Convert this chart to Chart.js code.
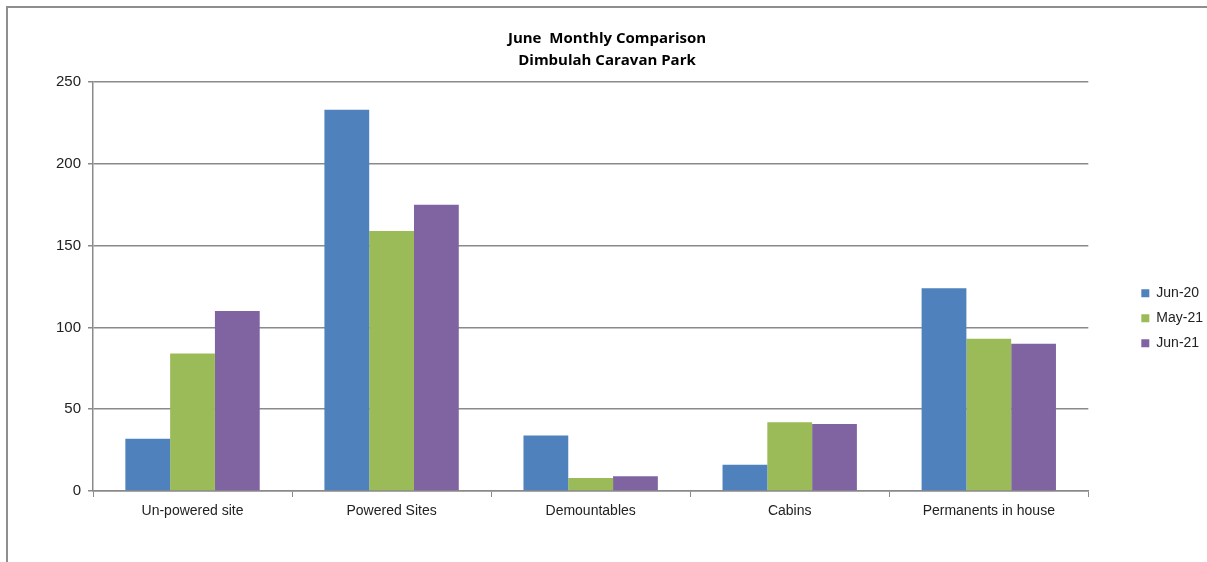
<!DOCTYPE html>
<html>
<head>
<meta charset="utf-8">
<script src="https://cdn.jsdelivr.net/npm/chart.js@4.4.0/dist/chart.umd.min.js"></script>
<style>
    html, body { margin: 0; padding: 0; background: #fff; }
    #wrap { position: absolute; left: 0; top: 0; width: 1207px; height: 562px; }
    #frame {
        position: absolute; left: 6px; top: 6px; right: -10px; bottom: -10px;
        border-left: 2px solid #8e8e8e; border-top: 2px solid #8e8e8e;
    }
</style>
</head>
<body>
<div id="wrap">
    <div id="frame"></div>
    <canvas id="barChart" width="1207" height="562"></canvas>
</div>
<script>
const categories = ["Un-powered site", "Powered Sites", "Demountables", "Cabins", "Permanents in house"];
const seriesNames = ["Jun-20", "May-21", "Jun-21"];
const jun20 = [32, 233, 34, 16, 124];
const may21 = [84, 159, 8, 42, 93];
const jun21 = [110, 175, 9, 41, 90];
const titleLines = ["June  Monthly Comparison", "Dimbulah Caravan Park"];

const colors = ["#4f81bd", "#9bbb59", "#8064a2"];
const gridColor = "#8a8a8a";

function makeDataset(i, values) {
    return {
        label: seriesNames[i],
        data: values,
        backgroundColor: colors[i],
        borderWidth: 0,
        categoryPercentage: 0.675,
        barPercentage: 1.0
    };
}

// nudge the legend a bit away from the plot, like the original
const legendShift = {
    id: "legendShift",
    afterLayout(chart) {
        if (chart.legend) {
            chart.legend.left += 42;
            chart.legend.right += 42;
        }
    }
};

document.addEventListener("DOMContentLoaded", () => {
    const ctx = document.getElementById("barChart");

    new Chart(ctx, {
        type: "bar",
        data: {
            labels: categories,
            datasets: [
                makeDataset(0, jun20),
                makeDataset(1, may21),
                makeDataset(2, jun21)
            ]
        },
        plugins: [legendShift],
        options: {
            responsive: false,
            animation: false,
            layout: {
                padding: { left: 43, right: 36, top: 28, bottom: 40 }
            },
            plugins: {
                title: {
                    display: true,
                    text: titleLines,
                    color: "#000",
                    font: { family: "Open Sans", size: 15, weight: "bold", lineHeight: "22px" },
                    padding: { top: 0, bottom: 10 }
                },
                legend: {
                    position: "right",
                    align: "center",
                    title: {
                        display: true,
                        text: "",
                        padding: { top: 36, bottom: 36 }
                    },
                    labels: {
                        boxWidth: 8,
                        boxHeight: 8,
                        padding: 11,
                        color: "#222",
                        font: { family: "Liberation Sans", size: 14 }
                    }
                },
                tooltip: { enabled: false }
            },
            scales: {
                x: {
                    grid: {
                        display: true,
                        drawOnChartArea: false,
                        drawTicks: true,
                        tickLength: 6,
                        color: gridColor,
                        offset: true
                    },
                    border: { color: gridColor, width: 1.5 },
                    ticks: {
                        color: "#222",
                        padding: 6,
                        font: { family: "Liberation Sans", size: 14 }
                    },
                    afterFit: (scale) => { scale.height = 31; }
                },
                y: {
                    min: 0,
                    max: 250,
                    ticks: {
                        stepSize: 50,
                        color: "#222",
                        padding: 7,
                        font: { family: "Liberation Sans", size: 15 }
                    },
                    grid: {
                        color: gridColor,
                        lineWidth: 1.5,
                        tickLength: 5
                    },
                    border: { color: gridColor, width: 1.5 },
                    afterFit: (scale) => { scale.width = 50; }
                }
            }
        }
    });
});
</script>
</body>
</html>
